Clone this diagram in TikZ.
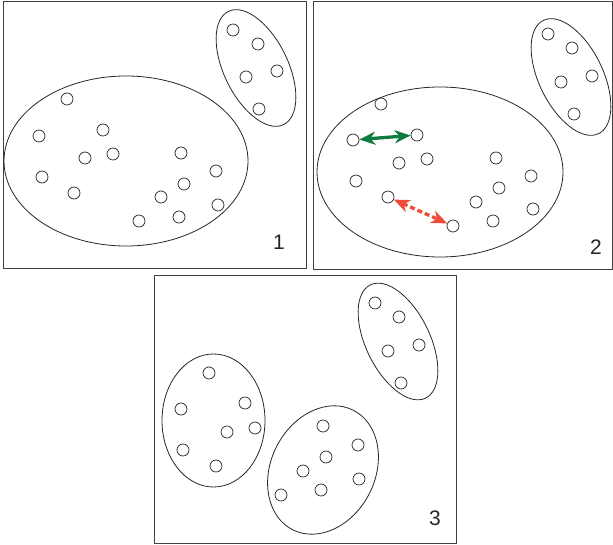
\documentclass[tikz,border=0pt]{standalone}
\usepackage{fontspec}
\setmainfont{Liberation Sans}
\usetikzlibrary{arrows.meta}
\definecolor{arrowgreen}{RGB}{14,124,62}
\definecolor{arrowred}{RGB}{238,76,54}
\tikzset{
  pt/.style={circle,draw=black!85,line width=0.7pt,minimum size=12pt,inner sep=0pt},
  frame/.style={draw=black!75,line width=0.9pt},
  cluster/.style={draw=black!85,line width=0.8pt},
  panellabel/.style={font=\fontsize{21}{24}\selectfont,text=black!85,inner sep=0pt},
  near/.style={arrowgreen,line width=3.3pt,
    {Stealth[length=16pt,width=13pt,inset=5pt]}-{Stealth[length=16pt,width=13pt,inset=5pt]}},
  far/.style={arrowred,line width=3.3pt,dash pattern=on 5pt off 3pt,
    {Stealth[length=16pt,width=13pt,inset=5pt]}-{Stealth[length=16pt,width=13pt,inset=5pt]}},
}
\begin{document}
\begin{tikzpicture}[x=1pt,y=-1pt]
\useasboundingbox (0,0) rectangle (613,545);

% ---------- panel 1 ----------
\draw[frame] (3,1.5) rectangle (306,268);
\draw[cluster] (126,161) ellipse [x radius=122pt, y radius=85pt];
\draw[cluster,rotate around={-64:(256,68)}] (256,68) ellipse [x radius=63pt, y radius=32pt];
\foreach \n/\x/\y in {a1/233/30,a2/258/44,a3/277/71,a4/246/77,a5/259/109,
  b1/67/99,b2/39/136,b3/103/130,b4/85/158,b5/113/154,b6/42/177,b7/74/193,
  b8/181/153,b9/216/171,b10/184/184,b11/161/197,b12/218/205,b13/179/217,b14/139/221}
  \node[pt] (p1\n) at (\x,\y) {};
\node[panellabel] (lab1) at (279,242) {1};

% ---------- panel 2 ----------
\draw[frame] (313,1.5) rectangle (612,269);
\draw[cluster] (440,172) ellipse [x radius=123pt, y radius=85pt];
\draw[cluster,rotate around={-64:(571,77)}] (571,77) ellipse [x radius=63pt, y radius=32pt];
\foreach \n/\x/\y in {a1/548/34,a2/572/48,a3/592/76,a4/561/82,a5/574/114,
  b1/381/104,b2/353/140,b3/417/135,b4/399/163,b5/427/159,b6/356/181,b7/388/197,
  b8/496/158,b9/531/176,b10/499/188,b11/476/202,b12/533/209,b13/493/221,b14/453/226}
  \node[pt] (p2\n) at (\x,\y) {};
\node[panellabel] (lab2) at (596,247) {2};
\draw[near] (p2b2) -- (p2b3);
\draw[far] (p2b7) -- (p2b14);

% ---------- panel 3 ----------
\draw[frame] (154,275) rectangle (456,543);
\draw[cluster] (213.5,420.5) ellipse [x radius=51.5pt, y radius=66.5pt];
\draw[cluster,rotate around={63:(323,470)}] (323,470) ellipse [x radius=67pt, y radius=52pt];
\draw[cluster,rotate around={-64:(398,341.5)}] (398,341.5) ellipse [x radius=63pt, y radius=32pt];
\foreach \n/\x/\y in {a1/375/303,a2/399/317,a3/419/345,a4/388/351,a5/401/383,
  b1/209/373,b2/181/409,b3/245/403,b4/227/432,b5/255/428,b6/183/450,b7/216/466,
  c1/323/426,c2/358/445,c3/326/457,c4/303/471,c5/359/479,c6/321/490,c7/281/495}
  \node[pt] (p3\n) at (\x,\y) {};
\node[panellabel] (lab3) at (435,518) {3};
\end{tikzpicture}
\end{document}
